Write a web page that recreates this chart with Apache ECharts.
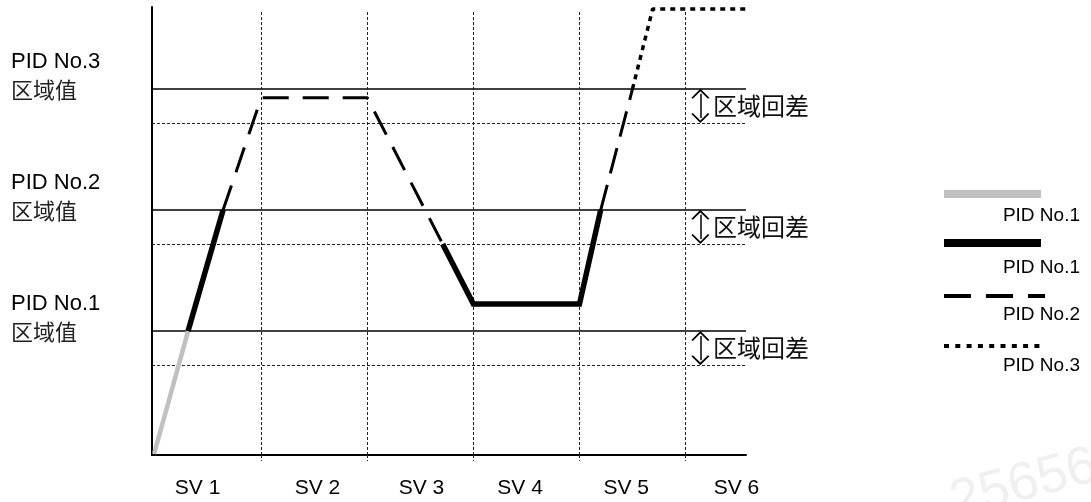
<!DOCTYPE html>
<html>
<head>
<meta charset="utf-8">
<style>
  html, body { margin: 0; padding: 0; background: #ffffff; }
  #chart { width: 1091px; height: 502px; }
</style>
<script src="https://cdn.jsdelivr.net/npm/echarts@6/dist/echarts.min.js"></script>
</head>
<body>
<div id="chart"></div>
<script>
// ---- data ----
const svLabels = ['SV 1', 'SV 2', 'SV 3', 'SV 4', 'SV 5', 'SV 6'];
const svLabelPos = [4.0, 15.3, 25.1, 34.4, 44.4, 54.8];
const svBounds = [10, 20, 30, 40, 50];
const svBoundTop = 109.8;
const zoneNames = ['PID No.1', 'PID No.2', 'PID No.3'];
const zoneSub = '区域值';
const zoneValues = [30.7, 60.7, 90.7];
const hysteresis = 8.4;
const hysteresisLabel = '区域回差';
const arrowX = 51.4;
const arrowLabelX = 52.6;

const pid1Grey = [[-0.1, 0.3], [3.1, 30.7]];
const pid1BlackA = [[3.1, 30.7], [6.4, 60.7]];
const pid1BlackB = [[27.1, 52.3], [30.0, 37.4], [40.0, 37.4], [42.0, 60.7]];
const pid2DashA = [[6.4, 60.7], [10.0, 88.5], [20.0, 88.5], [27.1, 52.3]];
const pid2DashB = [[42.0, 60.7], [45.0, 90.7]];
const pid3Dot = [[45.0, 90.7], [46.9, 110.5], [55.7, 110.5]];

const legendNames = ['PID No.1', 'PID No.1', 'PID No.2', 'PID No.3'];

// ---- chart ----
const LATIN = "'Liberation Sans', Arial, sans-serif";
const CJK = "'Noto Sans CJK SC', sans-serif";
const chart = echarts.init(document.getElementById('chart'), null, { renderer: 'canvas' });

const nearestIndex = (arr, v) => {
  let best = 0;
  arr.forEach((a, i) => { if (Math.abs(a - v) < Math.abs(arr[best] - v)) best = i; });
  return best;
};

const chevron = 'path://M0,9 L9,0 L18,9 L16.6,10 L9,2.6 L1.4,10 Z';
const dotted = { color: '#222', width: 1, type: [3, 2] };

const guideMarkLines = {
  silent: true,
  symbol: 'none',
  animation: false,
  label: { show: false },
  data: [
    ...zoneValues.map(v => ({ yAxis: v, lineStyle: { color: '#000', width: 1.5, type: 'solid' } })),
    ...zoneValues.map(v => ({ yAxis: +(v - hysteresis).toFixed(2), lineStyle: dotted })),
    ...svBounds.map(v => [{ coord: [v, 0], lineStyle: dotted }, { coord: [v, svBoundTop] }])
  ]
};

const arrowMarkLines = {
  silent: true,
  symbol: [chevron, chevron],
  symbolSize: [18, 10],
  animation: false,
  label: { show: false },
  lineStyle: { color: '#000', width: 1.5, type: 'solid' },
  itemStyle: { color: '#000' },
  data: zoneValues.map(v => [
    { coord: [arrowX, v - 1.2] },
    { coord: [arrowX, v - hysteresis + 1.2] }
  ])
};

const arrowMarkPoints = {
  silent: true,
  symbol: 'circle',
  symbolSize: 0,
  animation: false,
  label: {
    show: true,
    position: 'right',
    distance: 0,
    formatter: hysteresisLabel,
    fontFamily: CJK,
    fontSize: 24,
    color: '#111'
  },
  data: zoneValues.map(v => ({ coord: [arrowLabelX, v - hysteresis / 2] }))
};

const lineSeries = (name, data, style, z) => ({
  type: 'line',
  name,
  data,
  showSymbol: false,
  symbol: 'none',
  silent: true,
  animation: false,
  z,
  lineStyle: style
});

const option = {
  animation: false,
  backgroundColor: '#ffffff',
  grid: { left: 152, right: 345, top: 7, bottom: 47, containLabel: false, outerBoundsMode: 'none' },
  xAxis: {
    type: 'value',
    min: -0.3,
    max: 55.7,
    axisLine: { show: true, onZero: false, lineStyle: { color: '#000', width: 2 } },
    axisTick: { show: true, customValues: svBounds, length: 6, lineStyle: dotted },
    splitLine: { show: false },
    axisLabel: {
      show: true,
      customValues: svLabelPos,
      margin: 23,
      fontFamily: LATIN,
      fontSize: 21,
      color: '#000',
      formatter: v => svLabels[nearestIndex(svLabelPos, v)]
    }
  },
  yAxis: {
    type: 'value',
    min: 0,
    max: 111,
    axisLine: { show: true, onZero: false, lineStyle: { color: '#000', width: 2 } },
    axisTick: { show: false },
    splitLine: { show: false },
    axisLabel: {
      show: true,
      customValues: zoneValues,
      margin: 141,
      align: 'left',
      verticalAlign: 'middle',
      padding: [0, 0, 26, 0],
      formatter: v => '{a|' + zoneNames[nearestIndex(zoneValues, v)] + '}\n{b|' + zoneSub + '}',
      rich: {
        a: { fontFamily: LATIN, fontSize: 22, lineHeight: 28, color: '#000' },
        b: { fontFamily: CJK, fontSize: 22, lineHeight: 28, color: '#222' }
      }
    }
  },
  series: [
    Object.assign(lineSeries('guides', [], { width: 0 }, 1), { markLine: guideMarkLines }),
    Object.assign(lineSeries('arrows', [], { width: 0 }, 2), { markLine: arrowMarkLines, markPoint: arrowMarkPoints }),
    lineSeries('PID No.1 (grey)', pid1Grey, { color: '#c0c0c0', width: 4.5, cap: 'butt' }, 5),
    lineSeries('PID No.1', pid1BlackA, { color: '#000', width: 5.5, join: 'miter' }, 6),
    lineSeries('PID No.1 b', pid1BlackB, { color: '#000', width: 5.5, join: 'miter' }, 6),
    lineSeries('PID No.2', pid2DashA, { color: '#000', width: 3, type: [26, 14] }, 5),
    lineSeries('PID No.2 b', pid2DashB, { color: '#000', width: 3, type: [26, 12] }, 5),
    lineSeries('PID No.3', pid3Dot, { color: '#000', width: 3.5, type: [5, 5] }, 5)
  ],
  graphic: [
    // watermark
    {
      type: 'text', x: 958, y: 530, rotation: 0.26, silent: true, z: 0,
      style: { text: '256565', font: "54px 'Liberation Sans', Arial, sans-serif", fill: '#f0f0f0', textAlign: 'left', textVerticalAlign: 'bottom' }
    },
    // legend
    { type: 'rect', shape: { x: 944, y: 190, width: 97, height: 8 }, style: { fill: '#c0c0c0' }, silent: true },
    { type: 'rect', shape: { x: 944, y: 239, width: 97, height: 8 }, style: { fill: '#000' }, silent: true },
    { type: 'line', shape: { x1: 944, y1: 296, x2: 1045, y2: 296 }, style: { stroke: '#000', lineWidth: 4, lineDash: [27, 15] }, silent: true },
    { type: 'line', shape: { x1: 944, y1: 346, x2: 1041, y2: 346 }, style: { stroke: '#000', lineWidth: 4, lineDash: [5, 6.3] }, silent: true },
    ...legendNames.map((n, i) => ({
      type: 'text', x: 1080, y: [216, 268, 315, 366][i], silent: true,
      style: { text: n, font: "19px 'Liberation Sans', Arial, sans-serif", fill: '#000', textAlign: 'right', textVerticalAlign: 'middle' }
    }))
  ]
};

chart.setOption(option);
</script>
</body>
</html>
